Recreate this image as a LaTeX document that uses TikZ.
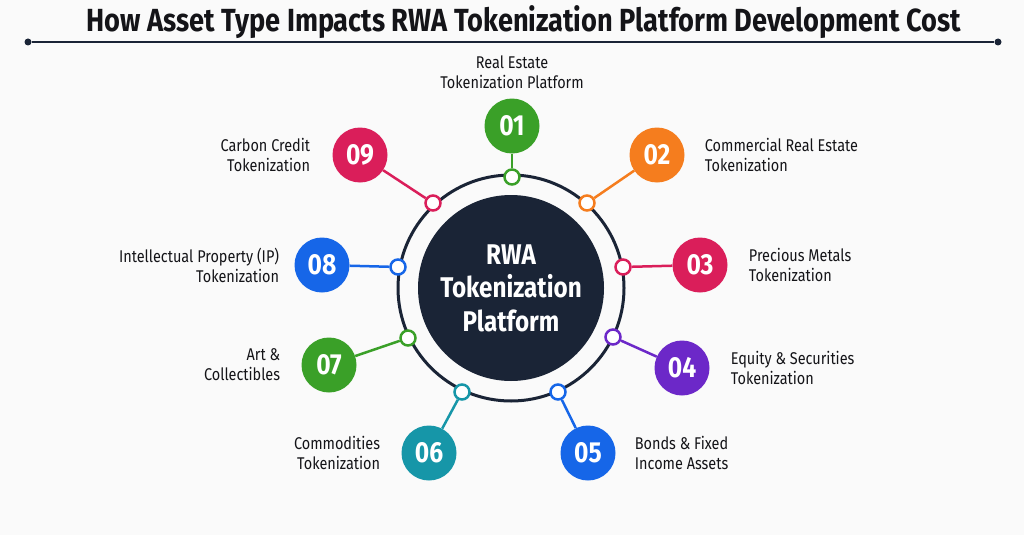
\documentclass[tikz,border=0pt]{standalone}
\usepackage{fontspec}
\setmainfont{Fira Sans}[FakeStretch=0.85]
\usetikzlibrary{positioning}

\definecolor{navy}{RGB}{26,36,54}
\definecolor{ink}{RGB}{20,20,24}
\definecolor{paper}{RGB}{250,250,250}
\definecolor{cgreen}{RGB}{58,160,40}
\definecolor{corange}{RGB}{245,125,30}
\definecolor{ccrimson}{RGB}{218,30,90}
\definecolor{cpurple}{RGB}{108,40,200}
\definecolor{cblue}{RGB}{22,102,232}
\definecolor{cteal}{RGB}{22,150,168}

\begin{document}
\begin{tikzpicture}[x=1pt, y=-1pt,
    num/.style={circle, fill=#1, text=white, minimum size=55pt, inner sep=0pt,
        font=\fontsize{29}{29}\selectfont\bfseries},
    dot/.style={circle, draw=#1, line width=2.5pt, fill=white, minimum size=15pt, inner sep=0pt},
    link/.style={draw=#1, line width=2.5pt},
    lbl/.style={inner sep=0pt, text=ink, font=\fontsize{17}{20}\selectfont},
    enddot/.style={circle, fill=navy, minimum size=7pt, inner sep=0pt}]

    \useasboundingbox (0,0) rectangle (1024,535);
    \fill[paper] (0,0) rectangle (1024,535);

    % title and rule
    \node[text=ink, font=\fontsize{32}{32}\selectfont\bfseries] (title) at (524,22)
        {How Asset Type Impacts RWA Tokenization Platform Development Cost};
    \node[enddot] (rl) at (28,42) {};
    \node[enddot] (rr) at (998,42) {};
    \draw[navy, line width=2pt] (rl) -- (rr);

    % hub
    \node[circle, draw=navy, line width=3pt, minimum size=226pt] (ring) at (511,288) {};
    \node[circle, fill=navy, minimum size=186pt, text=white, align=center,
        font=\fontsize{28.5}{33.5}\selectfont\bfseries] (core) at (511,288)
        {RWA\\Tokenization\\Platform};

    % ring points
    \node[dot=cgreen] (d01) at (512,177) {};
    \node[dot=corange] (d02) at (587,203) {};
    \node[dot=ccrimson] (d03) at (623,267) {};
    \node[dot=cpurple] (d04) at (613,337) {};
    \node[dot=cblue] (d05) at (558,392) {};
    \node[dot=cteal] (d06) at (462,392) {};
    \node[dot=cgreen] (d07) at (408,338) {};
    \node[dot=cblue] (d08) at (398,267) {};
    \node[dot=ccrimson] (d09) at (433,203) {};

    % numbered circles
    \node[num=cgreen] (n01) at (512,126) {01};
    \node[num=corange] (n02) at (657,155) {02};
    \node[num=ccrimson] (n03) at (700,265) {03};
    \node[num=cpurple] (n04) at (682,368) {04};
    \node[num=cblue] (n05) at (588,453) {05};
    \node[num=cteal] (n06) at (429,453) {06};
    \node[num=cgreen] (n07) at (329,365) {07};
    \node[num=cblue] (n08) at (322,265) {08};
    \node[num=ccrimson] (n09) at (360,155) {09};

    \draw[link=cgreen] (n01) -- (d01);
    \draw[link=corange] (n02) -- (d02);
    \draw[link=ccrimson] (n03) -- (d03);
    \draw[link=cpurple] (n04) -- (d04);
    \draw[link=cblue] (n05) -- (d05);
    \draw[link=cteal] (n06) -- (d06);
    \draw[link=cgreen] (n07) -- (d07);
    \draw[link=cblue] (n08) -- (d08);
    \draw[link=ccrimson] (n09) -- (d09);

    % labels
    \node[lbl, align=center, above=9pt of n01] (l01) {Real Estate\\Tokenization Platform};
    \node[lbl, align=left, right=20pt of n02] (l02) {Commercial Real Estate\\Tokenization};
    \node[lbl, align=left, right=21pt of n03] (l03) {Precious Metals\\Tokenization};
    \node[lbl, align=left, right=21pt of n04] (l04) {Equity \& Securities\\Tokenization};
    \node[lbl, align=left, right=19pt of n05] (l05) {Bonds \& Fixed\\Income Assets};
    \node[lbl, align=right, left=21pt of n06] (l06) {Commodities\\Tokenization};
    \node[lbl, align=right, left=21pt of n07] (l07) {Art \&\\Collectibles};
    \node[lbl, align=right, left=15pt of n08] (l08) {Intellectual Property (IP)\\Tokenization};
    \node[lbl, align=right, left=22pt of n09] (l09) {Carbon Credit\\Tokenization};
\end{tikzpicture}
\end{document}
